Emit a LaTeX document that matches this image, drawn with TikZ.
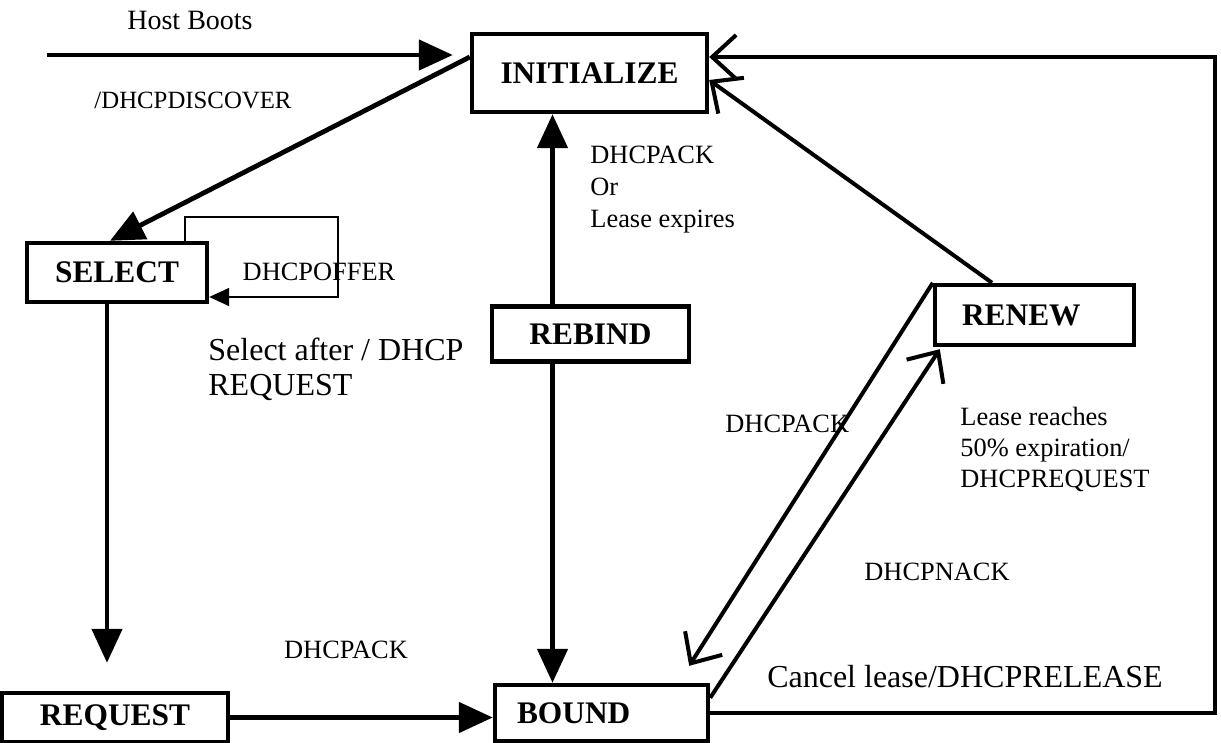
\documentclass[tikz,border=0pt]{standalone}
\usepackage{fontspec}
\setmainfont{Liberation Serif}
\usetikzlibrary{arrows.meta,positioning}
\tikzset{
    state/.style={draw,line width=2.2pt,font=\fontsize{15.7}{18}\selectfont\bfseries,inner sep=0pt},
    lbl/.style={font=\fontsize{13.2}{16}\selectfont,inner sep=0pt,align=left},
    biglbl/.style={font=\fontsize{16}{17.5}\selectfont,inner sep=0pt,align=left},
    pre/.style={-{Triangle[length=17pt,width=15pt]},line width=2.4pt},
    opn/.style={-{Straight Barb[length=12pt,width=22pt]},line width=2pt},
    offer/.style={-{Triangle[length=10pt,width=9pt]},line width=0.8pt}
}

\begin{document}
\begin{tikzpicture}[x=0.5pt,y=-0.5pt]
\useasboundingbox (0,0) rectangle (1221,743);

% states
\node[state,minimum width=117.5pt,minimum height=39pt] (init) at (589.5,73) {INITIALIZE};
\node[state,minimum width=90pt,minimum height=29.5pt] (select) at (117,272.5) {SELECT};
\node[state,minimum width=98.5pt,minimum height=27.5pt] (rebind) [below=95pt of init,xshift=0.5pt] {REBIND};
\node[state,minimum width=99.5pt,minimum height=30pt,text width=72.5pt,inner xsep=13.5pt,align=left] (renew) at (1034.5,315) {RENEW};
\node[state,minimum width=113pt,minimum height=24.5pt] (request) at (115,717.5) {REQUEST};
\node[state,minimum width=106.5pt,minimum height=28pt,text width=84.5pt,inner xsep=11pt,align=left] (bound) at (601.5,713) {BOUND};

\coordinate (hb) at (47,55);
\coordinate (offerc) at (338,217);
\coordinate (corner) at (1215,57);

% transitions
\draw[pre,shorten >=8.5pt] (hb) -- (hb -| init.west);
\draw[pre] ([yshift=8pt]init.west) -- ([xshift=-3.5pt]select.north);
\draw[offer] ([xshift=-12pt]select.north east) |- (offerc) |- ([yshift=-12.25pt]select.east);
\draw[pre,shorten >=14pt] ([xshift=-5pt]select.south) -- ([xshift=-4pt]request.north);
\draw[pre] (request.east) -- (request.east -| bound.west);
\draw[pre] ([xshift=-19pt]rebind.north) -- ([xshift=-19pt]rebind.north |- init.south);
\draw[pre] ([xshift=-19pt]rebind.south) -- ([xshift=-19pt]rebind.south |- bound.north);
\draw[opn] ([xshift=-21.25pt]renew.north) -- ([yshift=-3.5pt]init.east);
\draw[opn] (bound.east) -| (corner) -- (corner -| init.east);
\draw[opn] (renew.north west) -- ([xshift=-10.5pt,yshift=8.5pt]bound.north east);
\draw[opn] ([yshift=-7.5pt]bound.north east) -- ([xshift=3.5pt,yshift=-1pt]renew.south west);

% labels
\node[lbl,font=\fontsize{14}{16}\selectfont] (hostlbl) at (190,20) {Host Boots};
\node[lbl,font=\fontsize{12.4}{15}\selectfont] (disclbl) at (193,100) {/DHCPDISCOVER};
\node[lbl,anchor=west] (acklbl) at (590,190) {DHCPACK\\Or\\Lease expires};
\node[lbl] (offerlbl) at (319,272) {DHCPOFFER};
\node[biglbl,anchor=west] (sellbl) at (208,369.5) {Select after / DHCP\\REQUEST};
\node[lbl,anchor=west] (ack2lbl) at (725,424) {DHCPACK};
\node[lbl,anchor=west,font=\fontsize{13.2}{15.5}\selectfont] (leaselbl) at (960,449) {Lease reaches\\50\% expiration/\\DHCPREQUEST};
\node[lbl] (nacklbl) at (937,572) {DHCPNACK};
\node[lbl] (ack3lbl) at (346,650) {DHCPACK};
\node[biglbl] (cancellbl) at (965,677) {Cancel lease/DHCPRELEASE};

\end{tikzpicture}
\end{document}
